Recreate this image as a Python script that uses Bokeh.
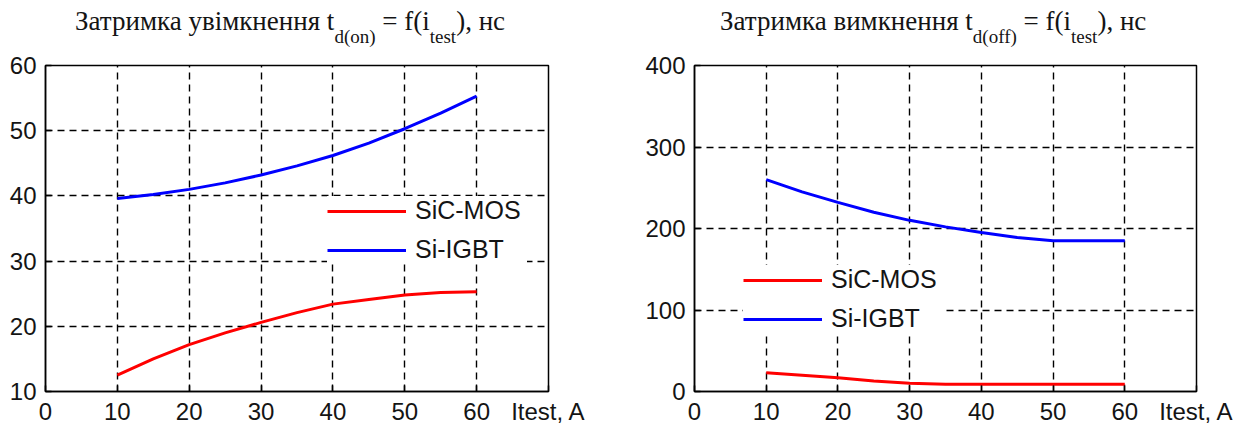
from bokeh.plotting import figure
from bokeh.models import Range1d, FixedTicker, Legend, LegendItem, Div
from bokeh.layouts import row, column
from bokeh.embed import file_html
from bokeh.resources import INLINE

# ---------------- data ----------------
current = [10, 15, 20, 25, 30, 35, 40, 45, 50, 55, 60]
ton_sic = [12.5, 15.0, 17.2, 19.0, 20.6, 22.1, 23.4, 24.1, 24.8, 25.2, 25.3]
ton_igbt = [39.6, 40.2, 41.0, 42.0, 43.2, 44.6, 46.2, 48.1, 50.3, 52.7, 55.3]
toff_sic = [23, 20, 17, 13, 10, 9, 9, 9, 9, 9, 9]
toff_igbt = [260, 245, 232, 220, 210, 202, 195, 189, 185, 185, 185]

series_names = ["SiC-MOS", "Si-IGBT"]
series_colors = ["#ff0000", "#0000ff"]

x_ticks = [0, 10, 20, 30, 40, 50, 60, 70]
x_tick_labels = ["0", "10", "20", "30", "40", "50", "60", "Itest, A"]
ton_ticks = [10, 20, 30, 40, 50, 60]
toff_ticks = [0, 100, 200, 300, 400]

title_on = ["Затримка увімкнення t", "d(on)", " = f(i", "test", "), нс"]
title_off = ["Затримка вимкнення t", "d(off)", " = f(i", "test", "), нс"]

# ---------------- layout constants ----------------
PANEL_W = 624
TITLE_H = 52
FIG_H = 375
BORDER_TOP = 13
BORDER_BOTTOM = 33
TICK_FONT = "24px"
SANS = "Liberation Sans"
SERIF = "Liberation Serif"
TXT = "#141414"


def make_title(parts, start_px):
    html = ""
    for i, txt in enumerate(parts):
        if i in (1, 3):
            html += ('<span style="font-size:19px; position:relative; top:13px;">'
                     + txt + '</span>')
        else:
            html += txt.replace(" ", "&nbsp;") if i == 2 else txt
    html = ('<div style="font-family:\'Liberation Serif\'; font-size:27px; '
            'line-height:30px; color:%s; padding-left:%dpx; padding-top:6px; '
            'white-space:nowrap; margin:0;">%s</div>' % (TXT, start_px, html))
    return Div(text=html, width=PANEL_W, height=TITLE_H, margin=0)


def make_panel(b_left, b_right, ys, y_ticks, legend_xy):
    p = figure(width=PANEL_W, height=FIG_H, output_backend="svg",
               toolbar_location=None, min_border_left=b_left,
               min_border_right=b_right, min_border_top=BORDER_TOP,
               min_border_bottom=BORDER_BOTTOM,
               x_range=Range1d(0, 70), y_range=Range1d(y_ticks[0], y_ticks[-1]))
    p.outline_line_color = "black"
    p.outline_line_width = 1.5
    p.background_fill_color = "white"
    p.border_fill_color = "white"

    p.xaxis.ticker = FixedTicker(ticks=x_ticks)
    p.xaxis.major_label_overrides = {t: l for t, l in zip(x_ticks, x_tick_labels)}
    p.yaxis.ticker = FixedTicker(ticks=y_ticks)
    for ax in [p.xaxis[0], p.yaxis[0]]:
        ax.major_label_text_font = SANS
        ax.major_label_text_font_size = TICK_FONT
        ax.major_label_text_color = TXT
        ax.major_tick_in = 6
        ax.major_tick_out = 0
        ax.minor_tick_line_color = None
        ax.axis_line_color = "black"
        ax.axis_line_width = 1.5
        ax.major_tick_line_color = "black"
        ax.major_tick_line_width = 1.5
    p.xaxis.major_label_standoff = 6
    p.yaxis.major_label_standoff = 9

    p.xgrid.ticker = FixedTicker(ticks=x_ticks[1:-1])
    p.ygrid.ticker = FixedTicker(ticks=y_ticks[1:-1])
    for g in [p.xgrid[0], p.ygrid[0]]:
        g.grid_line_color = "black"
        g.grid_line_dash = "7 5"
        g.grid_line_width = 1.4

    renderers = []
    for vals, col in zip(ys, series_colors):
        renderers.append(p.line(current, vals, line_color=col, line_width=3))

    legend = Legend(items=[LegendItem(label=n, renderers=[r])
                           for n, r in zip(series_names, renderers)],
                    location=legend_xy, orientation="vertical")
    legend.background_fill_color = "white"
    legend.background_fill_alpha = 1.0
    legend.border_line_color = None
    legend.label_text_font = SANS
    legend.label_text_font_size = "25px"
    legend.label_text_color = TXT
    legend.glyph_width = 79
    legend.glyph_height = 26
    legend.label_height = 26
    legend.label_standoff = 9
    legend.spacing = 10
    legend.padding = 10
    legend.margin = 0
    legend.label_width = 112
    p.add_layout(legend, "center")
    return p


title_l = make_title(title_on, 75)
title_r = make_title(title_off, 96)
left = make_panel(45, 76, [ton_sic, ton_igbt], ton_ticks, (282, 127))
right_p = make_panel(70, 52, [toff_sic, toff_igbt], toff_ticks, (49, 58))

layout = row(column(title_l, left), column(title_r, right_p))
open("out.html", "w").write(file_html(layout, INLINE))
